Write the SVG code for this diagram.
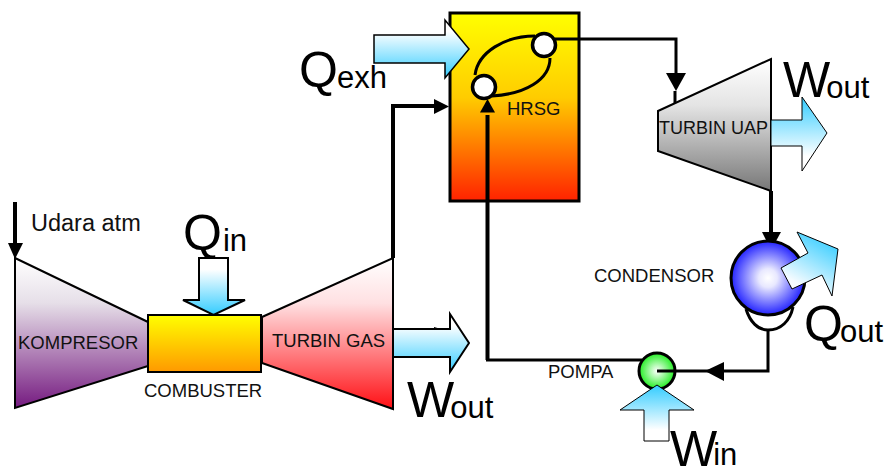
<svg xmlns="http://www.w3.org/2000/svg" width="886" height="468" viewBox="0 0 886 468">
<style>
text{font-family:"Liberation Sans",Arial,sans-serif;fill:#000}
.l{font-size:18.500px;fill:#111}
.b{font-size:50px}
.s{font-size:31px}
.t{stroke:#000;stroke-width:2}
.a{stroke:#000;stroke-width:1.500}
.w{fill:none;stroke:#000;stroke-width:4}
.th{fill:none;stroke:#000;stroke-width:3}
</style>
<defs>
<linearGradient id="gk" x1="0" y1="0" x2="0" y2="1"><stop offset="0" stop-color="#fff"/><stop offset="0.3" stop-color="#e6dfe8"/><stop offset="1" stop-color="#751a80"/></linearGradient>
<linearGradient id="gt" x1="0" y1="0" x2="0" y2="1"><stop offset="0" stop-color="#fff"/><stop offset="0.3" stop-color="#ffe0e2"/><stop offset="1" stop-color="#ff0f14"/></linearGradient>
<linearGradient id="gu" x1="0" y1="0" x2="0" y2="1"><stop offset="0" stop-color="#fff"/><stop offset="0.35" stop-color="#e4e4e4"/><stop offset="1" stop-color="#777"/></linearGradient>
<linearGradient id="gc" x1="0" y1="0" x2="0" y2="1"><stop offset="0" stop-color="#ff0"/><stop offset="1" stop-color="#f90"/></linearGradient>
<linearGradient id="gh" x1="0" y1="0" x2="0" y2="1"><stop offset="0" stop-color="#ff0"/><stop offset="0.45" stop-color="#fc0"/><stop offset="1" stop-color="#f20"/></linearGradient>
<linearGradient id="bd" x1="0" y1="0" x2="0" y2="1"><stop offset="0" stop-color="#fff"/><stop offset="0.2" stop-color="#fff"/><stop offset="1" stop-color="#3cf"/></linearGradient>
<linearGradient id="bu" x1="0" y1="1" x2="0" y2="0"><stop offset="0" stop-color="#fff"/><stop offset="0.2" stop-color="#fff"/><stop offset="1" stop-color="#3cf"/></linearGradient>
<linearGradient id="bq" x1="0.2" y1="1" x2="0.7" y2="0"><stop offset="0" stop-color="#fff"/><stop offset="0.2" stop-color="#f4fbff"/><stop offset="1" stop-color="#3cf"/></linearGradient>
<radialGradient id="gb" cx="0.5" cy="0.5" r="0.5"><stop offset="0" stop-color="#fff"/><stop offset="0.25" stop-color="#e8e8ff"/><stop offset="1" stop-color="#22f"/></radialGradient>
<radialGradient id="gg" cx="0.5" cy="0.5" r="0.5"><stop offset="0" stop-color="#fff"/><stop offset="1" stop-color="#2e2"/></radialGradient>
</defs>

<g id="arrow-udara"><path class="w" d="M15 202V243"/><path d="M8 243H23L15 259Z" fill="#000"/></g>
<g id="kompresor"><path class="t" d="M15 258L148 322V366L15 408Z" fill="url(#gk)"/><text class="l" x="18" y="349">KOMPRESOR</text></g>
<g id="turbin-gas"><path class="t" d="M262 317L393 258V409L262 363Z" fill="url(#gt)"/><text class="l" x="272" y="347">TURBIN GAS</text></g>
<g id="combuster"><rect x="148" y="315" width="113" height="57" fill="url(#gc)" stroke="#000" stroke-width="2"/><text class="l" x="144" y="397">COMBUSTER</text></g>
<g id="hrsg"><rect x="450" y="13" width="129" height="188" fill="url(#gh)" stroke="#000" stroke-width="3"/><text class="l" x="507" y="115">HRSG</text></g>
<g id="turbin-uap"><path class="t" d="M658 111L771 59V191L658 151Z" fill="url(#gu)"/><text class="l" x="659" y="134" style="font-size:18px">TURBIN UAP</text></g>

<g id="connectors">
<path class="w" d="M393 258V106H434"/><path d="M434 99L449 106.500L434 114Z" fill="#000"/>
<path class="w" d="M487.500 115V360"/><path d="M480 112.500H495L487.500 99Z" fill="#000"/><path class="th" d="M486 360H642"/>
<path class="th" d="M555 39H676V74"/><path d="M666 73H686L676 91Z" fill="#000"/><path class="th" d="M675 91V103"/>
<path class="w" d="M771 191V240"/><path d="M762 232H781L771 250Z" fill="#000"/>
<path class="th" d="M768 330V371H658"/><path d="M724 362V381L705 371Z" fill="#000"/>
<path class="th" d="M492 96C525 94 550 80 550 58"/><path class="th" d="M475 75C478 52 505 36 535 36"/>
<path d="M434 327L441 329H434Z" fill="#000"/>
</g>

<g id="hrsg-ports"><circle cx="484" cy="87" r="11.500" fill="#fff" stroke="#000" stroke-width="3.500"/><circle cx="544" cy="45" r="11.500" fill="#fff" stroke="#000" stroke-width="3.500"/></g>
<g id="condensor">
<path d="M746 309C750 322 758 330 768 330C781 330 790 321 793 307" fill="#fff" stroke="#000" stroke-width="3"/>
<circle cx="768" cy="278" r="37" fill="url(#gb)" stroke="#000" stroke-width="3"/>
<text class="l" x="594" y="282">CONDENSOR</text></g>
<g id="pompa"><circle cx="657" cy="371" r="18" fill="url(#gg)" stroke="#000" stroke-width="3"/><path d="M657 371H675" class="th"/><text class="l" x="548" y="378">POMPA</text></g>

<g id="heat-arrows">
<path id="q-exh" class="a" d="M374 35H445V20L469 49L445 78V63H374Z" fill="url(#bd)"/>
<path id="q-in" class="a" d="M199 258H228V300H245L213.500 315L183 300H199Z" fill="url(#bd)" style="stroke-width:2"/>
<path id="w-out-gas" class="a" d="M393 329H450V314L469 343L450 372V357H393Z" fill="url(#bd)" style="stroke-width:2"/>
<path id="w-out-uap" class="a" d="M771 120H802V97L827 133L802 171V146H771Z" fill="url(#bu)" style="stroke-width:1"/>
<path id="q-out" class="a" d="M781 268L808 253L797 232L838 249L832 296L822 275L792 289Z" fill="url(#bq)" style="stroke-width:1"/>
<path id="w-in" class="a" d="M644 441H669V410H694L657 385L620 410H644Z" fill="url(#bu)" style="stroke-width:1"/>
</g>

<g id="labels">
<text class="l" x="31" y="231" style="font-size:23.500px">Udara atm</text>
<text class="b" x="183" y="250">Q<tspan class="s" dx="1" dy="1">in</tspan></text>
<text class="b" x="299" y="87">Q<tspan class="s" dx="-1" dy="1">exh</tspan></text>
<text class="b" x="783" y="97">W<tspan class="s" dx="-4" dy="1">out</tspan></text>
<text class="b" x="407" y="417">W<tspan class="s" dx="-4" dy="1">out</tspan></text>
<text class="b" x="804" y="341">Q<tspan class="s" dx="-3" dy="1">out</tspan></text>
<text class="b" x="670" y="466">W<tspan class="s" dx="-4" dy="-1">in</tspan></text>
</g>
</svg>
